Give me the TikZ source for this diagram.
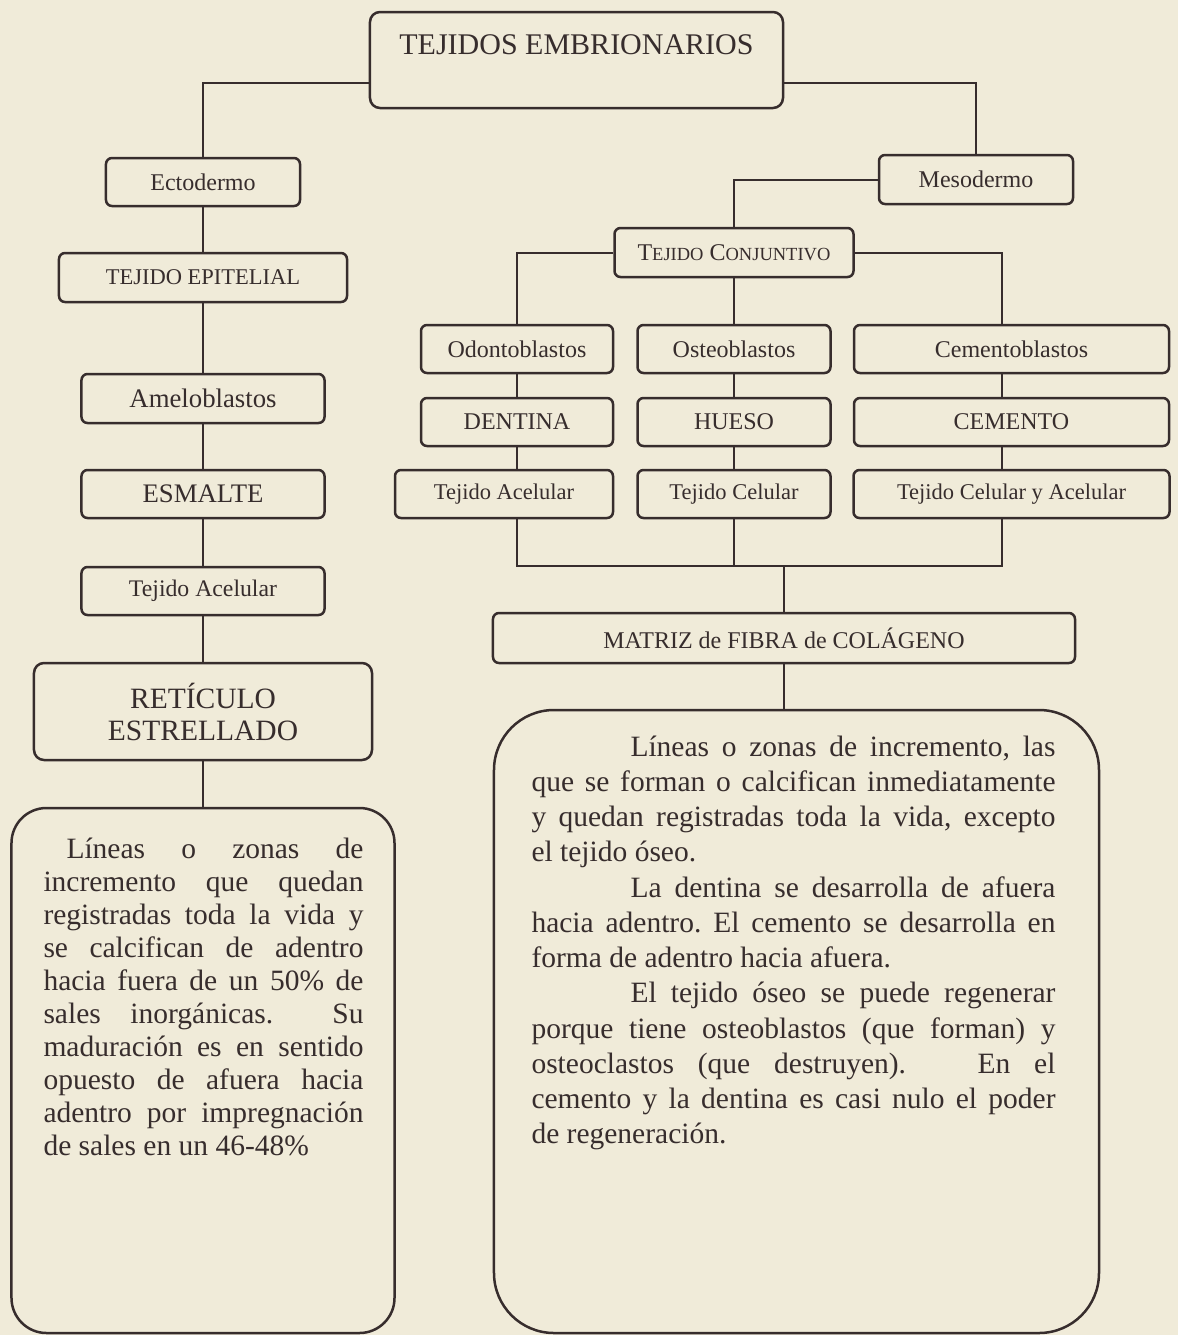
\documentclass[tikz,border=0pt]{standalone}
\usepackage{fontspec}
\setmainfont{Liberation Serif}
\usepackage{tikz}

\definecolor{papel}{RGB}{240,235,217}
\definecolor{tinta}{RGB}{55,45,45}
\newcommand{\versalita}[1]{{\fontsize{7.4}{9}\selectfont #1}}
\hyphenpenalty=10000
\exhyphenpenalty=10000
\tolerance=10000
\frenchspacing

\tikzset{
  caja/.style={draw=tinta, line width=1pt, rounded corners=2.4pt, inner sep=0pt, text=tinta},
  rotulo/.style={font=\fontsize{9.6}{11.5}\selectfont},
  enlace/.style={draw=tinta, line width=0.8pt},
  cuerpo/.style={inner sep=0pt, anchor=north west, align=justify, text=tinta}
}

\begin{document}
\begin{tikzpicture}[x=0.4pt, y=-0.4pt]
  \fill[papel] (0,0) rectangle (1178,1335);
  \useasboundingbox (0,0) rectangle (1178,1335);

  % cabecera
  \node[caja, rounded corners=4pt, minimum width=165.2pt, font=\fontsize{12}{14}\selectfont,
        text height=8pt, text depth=12.8pt, inner ysep=8.8pt] (tejidos) at (576.5,60) {TEJIDOS EMBRIONARIOS};
  \node[caja, rotulo, minimum width=77.6pt, minimum height=19.2pt] (ecto) at (203,182) {Ectodermo};
  \node[caja, rotulo, minimum width=77.6pt, minimum height=19.6pt] (meso) at (976,179.5) {Mesodermo};

  % rama del ectodermo
  \node[caja, font=\fontsize{9}{11}\selectfont, minimum width=115.2pt, minimum height=19.6pt] (epitelial) at (203,277.5) {TEJIDO EPITELIAL};
  \node[caja, font=\fontsize{10.7}{12}\selectfont, minimum width=97.2pt, minimum height=19.6pt] (amelo) at (203,398.5) {Ameloblastos};
  \node[caja, font=\fontsize{10.7}{12}\selectfont, minimum width=97.2pt, minimum height=19.2pt] (esmalte) at (203,494) {ESMALTE};
  \node[caja, font=\fontsize{9.5}{11}\selectfont, minimum width=97.2pt, minimum height=19.2pt] (acelizq) at (203,591) {Tejido Acelular};
  \node[caja, rounded corners=4pt, align=center, font=\fontsize{11.8}{12.8}\selectfont,
        minimum width=135.2pt, minimum height=38.8pt] (reticulo) at (203,711.5) {RETÍCULO\\ESTRELLADO};
  \node[caja, rounded corners=14pt, minimum width=153.2pt, minimum height=210pt] (notaecto) at (203,1070.5) {};

  % rama del mesodermo
  \node[caja, rotulo, minimum width=95.6pt, minimum height=19.6pt] (conjuntivo) at (734,252.5) {T\versalita{EJIDO} C\versalita{ONJUNTIVO}};
  \node[caja, rotulo, minimum width=76.8pt, minimum height=19.2pt] (odonto) at (517,349) {Odontoblastos};
  \node[caja, rotulo, minimum width=77.2pt, minimum height=19.2pt] (osteo) at (734,349) {Osteoblastos};
  \node[caja, rotulo, minimum width=126pt, minimum height=19.2pt] (cementob) at (1011.5,349) {Cementoblastos};
  \node[caja, rotulo, minimum width=76.8pt, minimum height=19.2pt] (dentina) at (517,422) {DENTINA};
  \node[caja, rotulo, minimum width=77.2pt, minimum height=19.2pt] (hueso) at (734,422) {HUESO};
  \node[caja, rotulo, minimum width=126pt, minimum height=19.2pt] (cemento) at (1011.5,422) {CEMENTO};
  \node[caja, font=\fontsize{9}{11}\selectfont, minimum width=87.2pt, minimum height=19.2pt] (acelder) at (504,494) {Tejido Acelular};
  \node[caja, font=\fontsize{9}{11}\selectfont, minimum width=77.2pt, minimum height=19.2pt] (celular) at (734,494) {Tejido Celular};
  \node[caja, font=\fontsize{9}{11}\selectfont, minimum width=126.4pt, minimum height=19.2pt] (mixto) at (1011.5,494) {Tejido Celular y Acelular};
  \node[caja, rotulo, minimum width=232.8pt, minimum height=20pt] (matriz) at (784,638) {MATRIZ de FIBRA de COLÁGENO};
  \node[caja, rounded corners=24pt, minimum width=242pt, minimum height=249.2pt] (notameso) at (796.5,1021.5) {};
  \coordinate (union) at (784,566);

  % textos
  \node[cuerpo, text width=128pt, font=\fontsize{11.8}{13.2}\selectfont] (textoecto) at (43,837) {%
    \hspace*{9.2pt}Líneas o zonas de\linebreak incremento que quedan\linebreak registradas toda la vida y\linebreak
    se calcifican de adentro\linebreak hacia fuera de un 50\% de\linebreak sales inorgánicas.\ \ Su\linebreak
    maduración es en sentido\linebreak opuesto de afuera hacia\linebreak adentro por impregnación\linebreak
    de sales en un 46-48\%};
  \node[cuerpo, text width=209.6pt, font=\fontsize{11.8}{14.1}\selectfont] (textomeso) at (531,735) {%
    \hspace*{39.6pt}Líneas o zonas de incremento, las\linebreak que se forman o calcifican inmediatamente\linebreak
    y quedan registradas toda la vida, excepto\linebreak el tejido óseo.\par
    \hspace*{39.6pt}La dentina se desarrolla de afuera\linebreak hacia adentro. El cemento se desarrolla en\linebreak
    forma de adentro hacia afuera.\par
    \hspace*{39.6pt}El tejido óseo se puede regenerar\linebreak porque tiene osteoblastos (que forman) y\linebreak
    osteoclastos (que destruyen).\ \ \ En el\linebreak cemento y la dentina es casi nulo el poder\linebreak
    de regeneración.};

  % conectores
  \draw[enlace] ([yshift=-9.2pt]tejidos.west) -| (ecto.north);
  \draw[enlace] ([yshift=-9.2pt]tejidos.east) -| (meso.north);
  \draw[enlace] (ecto.south) -- (epitelial.north);
  \draw[enlace] (epitelial.south) -- (amelo.north);
  \draw[enlace] (amelo.south) -- (esmalte.north);
  \draw[enlace] (esmalte.south) -- (acelizq.north);
  \draw[enlace] (acelizq.south) -- (reticulo.north);
  \draw[enlace] (reticulo.south) -- (notaecto.north);
  \draw[enlace] (meso.west) -| (conjuntivo.north);
  \draw[enlace] (conjuntivo.west) -| (odonto.north);
  \draw[enlace] (conjuntivo.east) -| ([xshift=-4pt]cementob.north);
  \draw[enlace] (conjuntivo.south) -- (osteo.north);
  \draw[enlace] (odonto.south) -- (dentina.north);
  \draw[enlace] (dentina.south) -- (dentina.south |- acelder.north);
  \draw[enlace] (osteo.south) -- (hueso.north);
  \draw[enlace] (hueso.south) -- (celular.north);
  \draw[enlace] ([xshift=-4pt]cementob.south) -- ([xshift=-4pt]cemento.north);
  \draw[enlace] ([xshift=-4pt]cemento.south) -- ([xshift=-4pt]mixto.north);
  \draw[enlace] (odonto |- acelder.south) |- (union) -| ([xshift=-4pt]mixto.south);
  \draw[enlace] (celular.south) -- (celular.south |- union);
  \draw[enlace] (union) -- (matriz.north);
  \draw[enlace] (matriz.south) -- (matriz.south |- notameso.north);
\end{tikzpicture}
\end{document}
